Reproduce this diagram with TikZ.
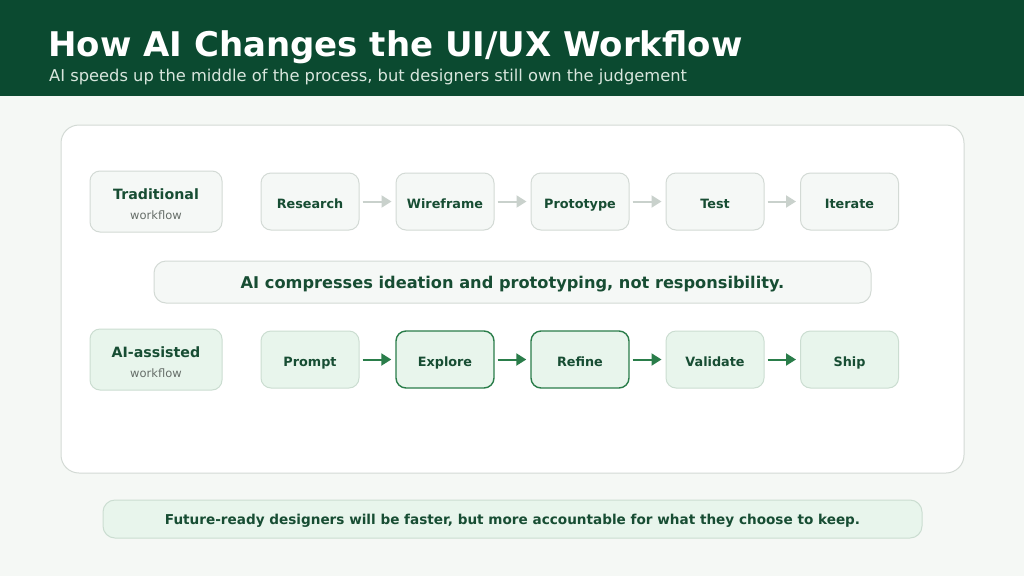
\documentclass[tikz,border=0pt]{standalone}
\usepackage{fontspec}
\setmainfont{DejaVu Sans}
\usetikzlibrary{arrows.meta}
\definecolor{hdr}{HTML}{0B4A30}
\definecolor{bg}{HTML}{F5F8F5}
\definecolor{ink}{HTML}{174D33}
\definecolor{grayt}{HTML}{666E69}
\definecolor{lborder}{HTML}{D3DAD5}
\definecolor{tfill}{HTML}{F5F8F6}
\definecolor{afill}{HTML}{E8F5EC}
\definecolor{aborder}{HTML}{CBDDD1}
\definecolor{gline}{HTML}{2A7D4A}
\definecolor{garrow}{HTML}{C9D1CC}
\definecolor{subt}{HTML}{D8E6DD}
\tikzset{
  tstep/.style={draw=lborder, line width=1pt, fill=tfill, rounded corners=10pt, minimum width=98pt, minimum height=57pt, inner sep=0pt, font=\bfseries\fontsize{12.8}{15}\selectfont, text=ink, text height=13pt, text depth=0pt},
  astep/.style={tstep, fill=afill, draw=aborder},
  hstep/.style={tstep, fill=afill, draw=gline, line width=1.4pt},
  lbox/.style={draw=lborder, line width=1pt, fill=tfill, rounded corners=10pt, minimum width=132pt, minimum height=61pt, inner sep=0pt},
  ltitle/.style={anchor=base, inner sep=0pt, text=ink, font=\bfseries\fontsize{14.2}{16}\selectfont},
  lsub/.style={anchor=base, inner sep=0pt, text=grayt, font=\fontsize{11.5}{13}\selectfont},
  tarr/.style={draw=garrow, line width=2pt, -{Triangle[length=10pt,width=12pt]}},
  aarr/.style={draw=gline, line width=2pt, -{Triangle[length=10pt,width=12pt]}},
}
\begin{document}
\begin{tikzpicture}[x=1pt,y=-1pt]
\useasboundingbox (0,0) rectangle (1024,576);
\fill[bg] (0,0) rectangle (1024,576);
\fill[hdr] (0,0) rectangle (1024,96);
\node[anchor=base west, inner sep=0pt, text=white, font=\bfseries\fontsize{34}{38}\selectfont] (title) at (48,56) {How AI Changes the UI/UX Workflow};
\node[anchor=base west, inner sep=0pt, text=subt, font=\fontsize{16.3}{19}\selectfont] (sub) at (49,81.5) {AI speeds up the middle of the process, but designers still own the judgement};

\draw[lborder, line width=1pt, fill=white, rounded corners=18pt] (61,125) rectangle (964,473);

\node[lbox] (trad) at (156,201.5) {};
\node[ltitle] (tradt) at ([yshift=2]trad.center) {Traditional};
\node[lsub] (trads) at ([yshift=-17.5]trad.center) {workflow};
\node[tstep] (r1) at (310,201.5) {Research};
\node[tstep] (r2) at (445,201.5) {Wireframe};
\node[tstep] (r3) at (580,201.5) {Prototype};
\node[tstep] (r4) at (715,201.5) {Test};
\node[tstep] (r5) at (849.5,201.5) {Iterate};
\foreach \a/\b in {r1/r2,r2/r3,r3/r4,r4/r5}{
  \draw[tarr] ([xshift=3pt]\a.east) -- ([xshift=-4pt]\b.west);
}

\node[draw=lborder, line width=1pt, fill=tfill, rounded corners=12pt, minimum width=717pt, minimum height=42pt, inner sep=0pt, text=ink, font=\bfseries\fontsize{16.2}{19}\selectfont, text height=12pt, text depth=0pt] (mid) at (512.5,282) {AI compresses ideation and prototyping, not responsibility.};

\node[lbox, fill=afill, draw=aborder] (ai) at (156,359.5) {};
\node[ltitle] (ait) at ([yshift=2]ai.center) {AI-assisted};
\node[lsub] (ais) at ([yshift=-17.5]ai.center) {workflow};
\node[astep] (s1) at (310,359.5) {Prompt};
\node[hstep] (s2) at (445,359.5) {Explore};
\node[hstep] (s3) at (580,359.5) {Refine};
\node[astep] (s4) at (715,359.5) {Validate};
\node[astep] (s5) at (849.5,359.5) {Ship};
\foreach \a/\b in {s1/s2,s2/s3,s3/s4,s4/s5}{
  \draw[aarr] ([xshift=3pt]\a.east) -- ([xshift=-4pt]\b.west);
}

\node[draw=aborder, line width=1pt, fill=afill, rounded corners=12pt, minimum width=819pt, minimum height=38pt, inner sep=0pt, text=ink, font=\bfseries\fontsize{13.6}{16}\selectfont, text height=10pt, text depth=0pt] (foot) at (512.5,519) {Future-ready designers will be faster, but more accountable for what they choose to keep.};
\end{tikzpicture}
\end{document}
